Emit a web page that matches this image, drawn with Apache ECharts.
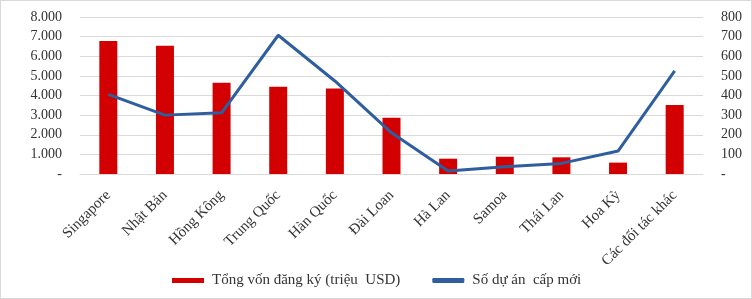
<!DOCTYPE html>
<html>
<head>
<meta charset="utf-8">
<script src="https://cdn.jsdelivr.net/npm/echarts@6/dist/echarts.min.js"></script>
<style>
  html, body { margin: 0; padding: 0; background: #fff; }
  #main { width: 750px; height: 297px; border: 1px solid #d9d9d9; }
</style>
</head>
<body>
<div id="main"></div>
<script>
// dữ liệu
var categories = ["Singapore", "Nhật Bản", "Hồng Kông", "Trung Quốc", "Hàn Quốc", "Đài Loan", "Hà Lan", "Samoa", "Thái Lan", "Hoa Kỳ", "Các đối tác khác"];
var vonDangKy = [6780, 6530, 4650, 4440, 4360, 2870, 780, 880, 850, 580, 3520];
var soDuAn = [406, 300, 312, 707, 474, 210, 15, 37, 54, 117, 525];
var leftTicks = [0, 1000, 2000, 3000, 4000, 5000, 6000, 7000, 8000];
var rightTicks = [0, 100, 200, 300, 400, 500, 600, 700, 800];

var font = "'Liberation Serif', 'Times New Roman', serif";

function fmtThousand(v) {
  if (v === 0) return "-";
  return String(v).replace(/\B(?=(\d{3})+(?!\d))/g, ".");
}

var myChart = echarts.init(document.getElementById("main"));
var option = {
  animation: false,
  textStyle: { fontFamily: font },
  grid: { left: 79, right: 48, top: 16, bottom: 124 },
  legend: {
    top: 267,
    left: 166,
    itemGap: 32,
    itemWidth: 32,
    itemHeight: 5,
    textStyle: { fontFamily: font, fontSize: 15, color: "#333", padding: [0, 0, 0, 3] },
    data: [
      { name: "Tổng vốn đăng ký (triệu  USD)", icon: "rect" },
      { name: "Số dự án  cấp mới", icon: "roundRect", itemStyle: { color: "#2F5E9E" } }
    ]
  },
  xAxis: {
    type: "category",
    data: categories,
    axisTick: { show: false },
    axisLine: { lineStyle: { color: "#d9d9d9" } },
    axisLabel: {
      rotate: 45,
      interval: 0,
      margin: 19,
      fontFamily: font,
      fontSize: 15,
      color: "#333"
    }
  },
  yAxis: [
    {
      type: "value",
      min: 0,
      max: 8000,
      interval: 1000,
      axisLine: { show: false },
      axisTick: { show: false },
      splitLine: { lineStyle: { color: "#d9d9d9", width: 1 } },
      axisLabel: {
        margin: 18,
        fontFamily: font,
        fontSize: 14,
        color: "#333",
        formatter: function (v) { return leftTicks.indexOf(v) >= 0 ? fmtThousand(v) : ""; }
      }
    },
    {
      type: "value",
      min: 0,
      max: 800,
      interval: 100,
      position: "right",
      axisLine: { show: false },
      axisTick: { show: false },
      splitLine: { show: false },
      axisLabel: {
        margin: 18,
        fontFamily: font,
        fontSize: 14,
        color: "#333",
        formatter: function (v) { return rightTicks.indexOf(v) >= 0 ? (v === 0 ? "-" : String(v)) : ""; }
      }
    }
  ],
  series: [
    {
      name: "Tổng vốn đăng ký (triệu  USD)",
      type: "bar",
      yAxisIndex: 0,
      data: vonDangKy,
      barWidth: 18,
      itemStyle: { color: "#D20000" }
    },
    {
      name: "Số dự án  cấp mới",
      type: "line",
      yAxisIndex: 1,
      data: soDuAn,
      symbol: "none",
      lineStyle: { color: "#2F5E9E", width: 3 },
      itemStyle: { color: "#2F5E9E" }
    }
  ]
};
myChart.setOption(option);
</script>
</body>
</html>
